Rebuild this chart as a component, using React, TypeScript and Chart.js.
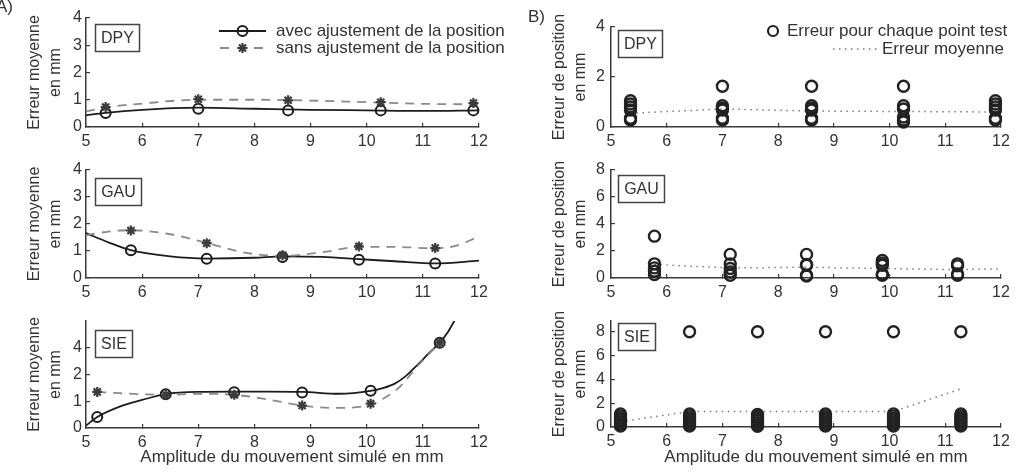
import React, { useEffect, useRef } from "react";
import { Chart, registerables } from "chart.js";

Chart.register(...registerables);

const FONT = "'Liberation Sans', Arial, Helvetica, sans-serif";
const TEXT = "#333333";
const AXIS = "#3a3a3a";
const DARK = "#1c1c1c";
const GRAY = "#8a8a8a";
const STAR = "#3c3c3c";
const TICK_SIZE = 16;
const LABEL_SIZE = 17;

// ---------- tick values ----------
const xTickValues = [5, 6, 7, 8, 9, 10, 11, 12];
const yTicksA = [0, 1, 2, 3, 4];
const yTicksASie = [0, 1, 2, 4];
const yTicksBTop = [0, 2, 4];
const yTicksB = [0, 2, 4, 6, 8];

// ---------- texts ----------
const xTitle = "Amplitude du mouvement simulé en mm";
const yTitleA = ["Erreur moyenne", "en mm"];
const yTitleB = ["Erreur de position", "en mm"];
const legendA = ["avec ajustement de la position", "sans ajustement de la position"];
const legendB = ["Erreur pour chaque point test", "Erreur moyenne"];

// ---------- A) DPY ----------
const dpyX = [5.35, 7, 8.6, 10.25, 11.9];
const dpyAvec = [0.51, 0.67, 0.61, 0.61, 0.61];
const dpySans = [0.73, 1.02, 0.98, 0.91, 0.88];
const dpyCurveX = [5, 5.35, 6, 7, 8, 9, 10, 11, 12];
const dpyAvecCurve = [0.43, 0.52, 0.63, 0.71, 0.67, 0.63, 0.61, 0.59, 0.61];
const dpySansCurve = [0.57, 0.72, 0.86, 1.0, 1.0, 0.97, 0.91, 0.85, 0.83];

// ---------- A) GAU ----------
const gauX = [5.8, 7.15, 8.5, 9.86, 11.22];
const gauAvec = [1.03, 0.71, 0.78, 0.68, 0.54];
const gauSans = [1.76, 1.29, 0.84, 1.17, 1.11];
const gauAvecCurveX = [5, 5.4, 5.8, 6.5, 7.15, 8, 8.5, 9.2, 9.86, 10.5, 11.22, 12];
const gauAvecCurve = [1.66, 1.32, 1.03, 0.8, 0.72, 0.75, 0.8, 0.78, 0.7, 0.62, 0.54, 0.64];
const gauSansCurveX = [5, 5.4, 5.8, 6.5, 7.15, 7.8, 8.5, 9.2, 9.86, 10.5, 11.22, 11.6, 12];
const gauSansCurve = [1.58, 1.72, 1.77, 1.62, 1.3, 0.95, 0.82, 0.95, 1.15, 1.15, 1.1, 1.2, 1.54];

// ---------- A) SIE (real values, axis compressed above 2) ----------
const sieX = [5.2, 6.42, 7.64, 8.85, 10.07, 11.3];
const sieAvec = [0.41, 1.26, 1.34, 1.33, 1.39, 4.38];
const sieSans = [1.35, 1.24, 1.24, 0.84, 0.91, 4.38];
const sieAvecCurveX = [5, 5.2, 5.6, 6, 6.42, 7, 7.64, 8.25, 8.85, 9.5, 10.07, 10.3, 10.5, 10.7, 10.9, 11.1, 11.3, 11.45, 11.6];
const sieAvecCurve = [0.09, 0.41, 0.8, 1.05, 1.27, 1.35, 1.36, 1.36, 1.35, 1.28, 1.39, 1.5, 1.66, 1.95, 2.7, 3.56, 4.38, 5.2, 6.3];
const sieSansCurveX = [5.2, 5.6, 6, 6.42, 7, 7.64, 8.2, 8.85, 9.4, 10.07, 10.3, 10.6, 10.9, 11.1, 11.3];
const sieSansCurve = [1.35, 1.3, 1.26, 1.24, 1.28, 1.24, 1.08, 0.84, 0.75, 0.86, 1.1, 1.56, 2.6, 3.5, 4.38];

// ---------- B) DPY ----------
const bDpyX = [5.35, 7, 8.6, 10.25, 11.9];
const bDpyPoints = [
  [1.05, 0.92, 0.8, 0.68, 0.35, 0.28],
  [1.63, 0.85, 0.75, 0.68, 0.35, 0.28],
  [1.63, 0.85, 0.75, 0.68, 0.35, 0.28],
  [1.63, 0.85, 0.72, 0.4, 0.28, 0.2],
  [1.05, 0.92, 0.8, 0.68, 0.35, 0.28],
];
const bDpyMean = [0.55, 0.72, 0.64, 0.62, 0.6];

// ---------- B) GAU ----------
const bGauX = [5.78, 7.14, 8.51, 9.87, 11.22];
const bGauPoints = [
  [3.1, 1.05, 0.75, 0.5, 0.25],
  [1.75, 1.05, 0.7, 0.45, 0.2],
  [1.75, 1.0, 0.95, 0.2, 0.15],
  [1.3, 1.1, 0.95, 0.3, 0.2],
  [1.05, 0.9, 0.3, 0.2],
];
const bGauMeanX = [5.78, 7.14, 8.51, 9.87, 11.22, 12];
const bGauMean = [1.0, 0.74, 0.8, 0.7, 0.62, 0.68];

// ---------- B) SIE ----------
const bSieX = [5.17, 6.41, 7.63, 8.85, 10.07, 11.28];
const bSiePoints = [
  [1.1, 0.93, 0.76, 0.59, 0.42, 0.25, 0.08],
  [8, 1.1, 0.93, 0.76, 0.59, 0.42, 0.25, 0.08],
  [8, 1.05, 0.88, 0.71, 0.54, 0.37, 0.2, 0.06],
  [8, 1.1, 0.93, 0.76, 0.59, 0.42, 0.25, 0.08],
  [8, 1.1, 0.93, 0.76, 0.59, 0.42, 0.25, 0.08],
  [8, 1.1, 0.93, 0.76, 0.59, 0.42, 0.25, 0.08],
];
const bSieMean = [0.45, 1.3, 1.3, 1.3, 1.3, 3.2];

// axis of A) SIE: linear up to 2, half scale above (labels 0,1,2,4 equally spaced)
const sieToAxis = (v: number) => (v <= 2 ? v : 2 + (v - 2) / 2);
const sieFromAxis = (v: number) => (v <= 2 ? v : 2 + (v - 2) * 2);
const ident = (v: number) => v;

// ---------- dataset builders ----------
function pts(xs: number[], ys: number[], f = ident) {
  return xs.map((x, i) => ({ x, y: f(ys[i]) }));
}
function curve(xs: number[], ys: number[], dashed: boolean, f = ident) {
  return {
    data: pts(xs, ys, f),
    showLine: true,
    borderColor: dashed ? GRAY : DARK,
    borderWidth: 1.8,
    borderDash: dashed ? [9, 7] : [],
    pointRadius: 0,
    cubicInterpolationMode: "monotone",
    fill: false,
  };
}
function circles(xs: number[], ys: number[], f = ident) {
  return {
    data: pts(xs, ys, f),
    showLine: false,
    pointStyle: "circle",
    pointRadius: 5,
    pointBorderWidth: 2,
    pointBorderColor: DARK,
    pointBackgroundColor: "rgba(0,0,0,0)",
    clip: false,
  };
}
function stars(xs: number[], ys: number[], f = ident) {
  return {
    data: pts(xs, ys, f),
    showLine: false,
    pointStyle: "star",
    pointRadius: 5,
    pointBorderWidth: 2.2,
    pointBorderColor: STAR,
    pointBackgroundColor: STAR,
    clip: false,
  };
}
function columns(xs: number[], cols: number[][]) {
  const data: { x: number; y: number }[] = [];
  cols.forEach((c, i) => c.forEach((y) => data.push({ x: xs[i], y })));
  return {
    data,
    showLine: false,
    pointStyle: "circle",
    pointRadius: 5.5,
    pointBorderWidth: 2.4,
    pointBorderColor: "#222",
    pointBackgroundColor: "rgba(0,0,0,0)",
    clip: false,
  };
}
function dotted(xs: number[], ys: number[]) {
  return {
    data: pts(xs, ys),
    showLine: true,
    borderColor: "#7a7a7a",
    borderWidth: 1.5,
    borderDash: [1.5, 4.5],
    pointRadius: 0,
    tension: 0,
    fill: false,
  };
}

type PanelCfg = {
  id: string;
  left: number;
  top: number;
  w: number;
  h: number;
  plot: { left: number; top: number; right: number; bottom: number };
  yMax: number;
  yTicks: number[];
  toAxis: (v: number) => number;
  fromAxis: (v: number) => number;
  yTitle: string[];
  yTitlePad: number;
  yLabelPad: number;
  datasets: any[];
  box: { label: string; x: number; y: number };
  xTitleX?: number;
  letter?: { text: string; x: number; y: number };
  legend?: "A" | "B";
};

const panels: PanelCfg[] = [
  {
    id: "a1", left: 0, top: 0, w: 520, h: 150,
    plot: { left: 86, top: 18, right: 479, bottom: 127 },
    yMax: 4, yTicks: yTicksA, toAxis: ident, fromAxis: ident,
    yTitle: yTitleA, yTitlePad: 24.6, yLabelPad: 8,
    datasets: [
      stars(dpyX, dpySans), circles(dpyX, dpyAvec),
      curve(dpyCurveX, dpySansCurve, true), curve(dpyCurveX, dpyAvecCurve, false),
    ],
    box: { label: "DPY", x: 95, y: 24 },
    letter: { text: "A)", x: -4, y: 7 },
    legend: "A",
  },
  {
    id: "a2", left: 0, top: 150, w: 520, h: 150,
    plot: { left: 86, top: 170, right: 479, bottom: 278 },
    yMax: 4, yTicks: yTicksA, toAxis: ident, fromAxis: ident,
    yTitle: yTitleA, yTitlePad: 24.6, yLabelPad: 8,
    datasets: [
      stars(gauX, gauSans), circles(gauX, gauAvec),
      curve(gauSansCurveX, gauSansCurve, true), curve(gauAvecCurveX, gauAvecCurve, false),
    ],
    box: { label: "GAU", x: 95, y: 178 },
  },
  {
    id: "a3", left: 0, top: 300, w: 520, h: 172,
    plot: { left: 86, top: 321, right: 479, bottom: 428 },
    yMax: 4, yTicks: yTicksASie, toAxis: sieToAxis, fromAxis: sieFromAxis,
    yTitle: yTitleA, yTitlePad: 24.6, yLabelPad: 8,
    datasets: [
      stars(sieX, sieSans, sieToAxis), circles(sieX, sieAvec, sieToAxis),
      curve(sieSansCurveX, sieSansCurve, true, sieToAxis), curve(sieAvecCurveX, sieAvecCurve, false, sieToAxis),
    ],
    box: { label: "SIE", x: 95, y: 330 },
    xTitleX: 292,
  },
  {
    id: "b1", left: 520, top: 0, w: 503, h: 150,
    plot: { left: 611, top: 27, right: 1001, bottom: 127 },
    yMax: 4, yTicks: yTicksBTop, toAxis: ident, fromAxis: ident,
    yTitle: yTitleB, yTitlePad: 29.6, yLabelPad: 10,
    datasets: [columns(bDpyX, bDpyPoints), dotted(bDpyX, bDpyMean)],
    box: { label: "DPY", x: 618, y: 30 },
    letter: { text: "B)", x: 528, y: 17 },
    legend: "B",
  },
  {
    id: "b2", left: 520, top: 150, w: 503, h: 150,
    plot: { left: 611, top: 170, right: 1001, bottom: 278 },
    yMax: 8, yTicks: yTicksB, toAxis: ident, fromAxis: ident,
    yTitle: yTitleB, yTitlePad: 29.6, yLabelPad: 10,
    datasets: [columns(bGauX, bGauPoints), dotted(bGauMeanX, bGauMean)],
    box: { label: "GAU", x: 618, y: 175 },
  },
  {
    id: "b3", left: 520, top: 300, w: 503, h: 172,
    plot: { left: 611, top: 321, right: 1001, bottom: 427 },
    yMax: 8.9, yTicks: yTicksB, toAxis: ident, fromAxis: ident,
    yTitle: yTitleB, yTitlePad: 29.6, yLabelPad: 10,
    datasets: [columns(bSieX, bSiePoints), dotted(bSieX, bSieMean)],
    box: { label: "SIE", x: 618, y: 323 },
    xTitleX: 816,
  },
];

// ---------- drawing helpers ----------
function drawStar(ctx: CanvasRenderingContext2D, x: number, y: number, r: number) {
  ctx.beginPath();
  for (let k = 0; k < 4; k++) {
    const a = (k * Math.PI) / 4;
    ctx.moveTo(x - Math.cos(a) * r, y - Math.sin(a) * r);
    ctx.lineTo(x + Math.cos(a) * r, y + Math.sin(a) * r);
  }
  ctx.stroke();
}

function annotate(p: PanelCfg) {
  return {
    id: "annot_" + p.id,
    afterDraw(chart: any) {
      const ctx: CanvasRenderingContext2D = chart.ctx;
      ctx.save();
      ctx.translate(-p.left, -p.top);
      ctx.setLineDash([]);

      // boxed label
      ctx.font = `${TICK_SIZE}px ${FONT}`;
      const tw = ctx.measureText(p.box.label).width;
      const bw = Math.round(tw + 11);
      const bh = 27;
      ctx.lineWidth = 1.5;
      ctx.strokeStyle = "#444";
      ctx.strokeRect(p.box.x + 0.5, p.box.y + 0.5, bw, bh);
      ctx.fillStyle = TEXT;
      ctx.textAlign = "center";
      ctx.textBaseline = "middle";
      ctx.fillText(p.box.label, p.box.x + 0.5 + bw / 2, p.box.y + 0.5 + bh / 2 + 1);

      ctx.font = `${LABEL_SIZE}px ${FONT}`;
      ctx.textAlign = "left";
      if (p.letter) {
        ctx.fillText(p.letter.text, p.letter.x, p.letter.y);
      }
      if (p.xTitleX !== undefined) {
        ctx.textAlign = "center";
        ctx.fillText(xTitle, p.xTitleX, 457);
        ctx.textAlign = "left";
      }
      if (p.legend === "A") {
        ctx.strokeStyle = DARK;
        ctx.lineWidth = 1.8;
        ctx.beginPath();
        ctx.moveTo(219, 31);
        ctx.lineTo(266, 31);
        ctx.stroke();
        ctx.lineWidth = 2;
        ctx.beginPath();
        ctx.arc(242.5, 31, 5, 0, Math.PI * 2);
        ctx.stroke();
        ctx.strokeStyle = GRAY;
        ctx.lineWidth = 1.8;
        ctx.setLineDash([9, 8]);
        ctx.beginPath();
        ctx.moveTo(220, 48);
        ctx.lineTo(265, 48);
        ctx.stroke();
        ctx.setLineDash([]);
        ctx.strokeStyle = STAR;
        ctx.lineWidth = 2.2;
        drawStar(ctx, 242.5, 48, 5);
        ctx.fillStyle = TEXT;
        ctx.fillText(legendA[0], 276, 31);
        ctx.fillText(legendA[1], 276, 48);
      }
      if (p.legend === "B") {
        ctx.strokeStyle = "#222";
        ctx.lineWidth = 2.2;
        ctx.beginPath();
        ctx.arc(773, 31, 5, 0, Math.PI * 2);
        ctx.stroke();
        ctx.strokeStyle = "#7a7a7a";
        ctx.lineWidth = 1.5;
        ctx.setLineDash([1.5, 4.5]);
        ctx.beginPath();
        ctx.moveTo(833, 49);
        ctx.lineTo(877, 49);
        ctx.stroke();
        ctx.setLineDash([]);
        ctx.fillStyle = TEXT;
        ctx.fillText(legendB[0], 787, 31);
        ctx.fillText(legendB[1], 882, 49);
      }
      ctx.restore();
    },
  };
}

function buildConfig(p: PanelCfg): any {
  const yw = p.plot.left - p.left;
  const pt = p.plot.top - p.top;
  const pr = p.left + p.w - p.plot.right;
  const xh = p.top + p.h - p.plot.bottom;
  return {
    type: "scatter",
    data: { datasets: p.datasets },
    options: {
      responsive: false,
      maintainAspectRatio: false,
      animation: false,
      devicePixelRatio: 1,
      events: [],
      layout: { padding: { left: 0, right: pr, top: pt, bottom: 0 } },
      plugins: { legend: { display: false }, tooltip: { enabled: false }, title: { display: false } },
      scales: {
        x: {
          type: "linear",
          min: 5,
          max: 12,
          afterBuildTicks: (s: any) => {
            s.ticks = xTickValues.map((v) => ({ value: v }));
          },
          afterFit: (s: any) => {
            s.height = xh;
          },
          ticks: {
            font: { family: FONT, size: TICK_SIZE },
            color: TEXT,
            padding: 9,
            maxRotation: 0,
            autoSkip: false,
            callback: (v: number) => String(v),
          },
          grid: { drawOnChartArea: false, drawTicks: true, tickLength: -4, color: AXIS, lineWidth: 1.2 },
          border: { display: true, color: AXIS, width: 1.5 },
        },
        y: {
          type: "linear",
          min: 0,
          max: p.yMax,
          afterBuildTicks: (s: any) => {
            s.ticks = p.yTicks.map((v) => ({ value: p.toAxis(v) }));
          },
          afterFit: (s: any) => {
            s.width = yw;
          },
          ticks: {
            font: { family: FONT, size: TICK_SIZE },
            color: TEXT,
            padding: p.yLabelPad,
            callback: (v: number) => String(Math.round(p.fromAxis(v) * 100) / 100),
          },
          grid: { drawOnChartArea: false, drawTicks: true, tickLength: -4, color: AXIS, lineWidth: 1.2 },
          border: { display: true, color: AXIS, width: 1.5 },
          title: {
            display: true,
            text: p.yTitle,
            color: TEXT,
            font: { family: FONT, size: TICK_SIZE, lineHeight: 1.3 },
            padding: { top: p.yTitlePad, bottom: 0 },
          },
        },
      },
    },
    plugins: [annotate(p)],
  };
}

function Panel({ cfg }: { cfg: PanelCfg }) {
  const ref = useRef<HTMLCanvasElement | null>(null);
  useEffect(() => {
    if (!ref.current) return;
    const chart = new Chart(ref.current, buildConfig(cfg));
    return () => chart.destroy();
  }, [cfg]);
  return (
    <canvas
      ref={ref}
      width={cfg.w}
      height={cfg.h}
      style={{ position: "absolute", left: cfg.left, top: cfg.top, width: cfg.w, height: cfg.h, display: "block" }}
    />
  );
}

export default function App() {
  return (
    <div
      style={{
        position: "absolute",
        left: 0,
        top: 0,
        width: 1023,
        height: 472,
        background: "#ffffff",
        overflow: "hidden",
      }}
    >
      {panels.map((p) => (
        <Panel key={p.id} cfg={p} />
      ))}
    </div>
  );
}
